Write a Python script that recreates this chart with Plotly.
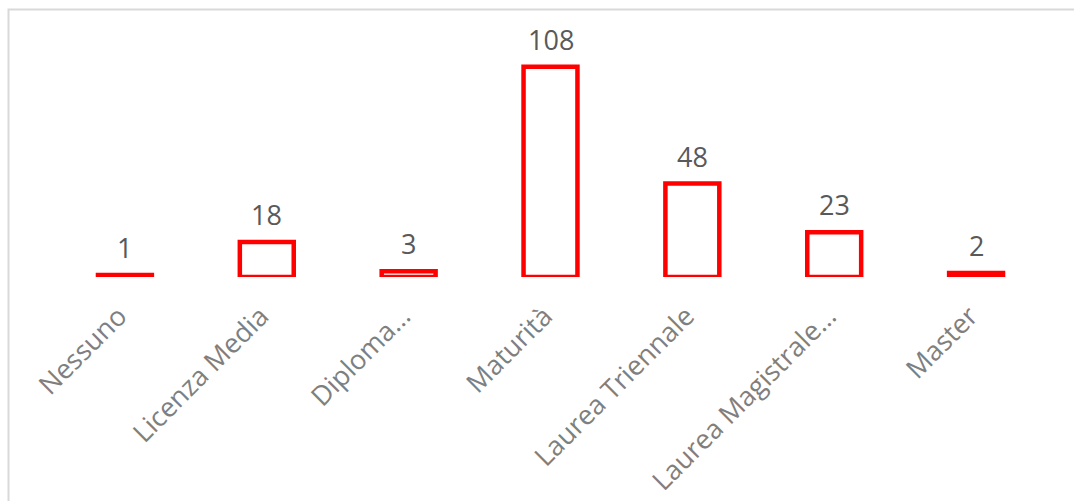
import plotly.graph_objects as go

# Titolo di studio: categorie e conteggi
categories = ["Nessuno", "Licenza Media", "Diploma…", "Maturità",
              "Laurea Triennale", "Laurea Magistrale…", "Master"]
counts = [1, 18, 3, 108, 48, 23, 2]

W, H = 1074, 501
margin = dict(l=54, r=27, t=20, b=224)
plot_w = W - margin["l"] - margin["r"]
plot_h = H - margin["t"] - margin["b"]

fig = go.Figure(
    go.Bar(
        x=categories,
        y=counts,
        width=0.38,
        marker=dict(color="white", line=dict(color="#FF0000", width=4.5)),
        cliponaxis=False,
        hoverinfo="skip",
    )
)

# value labels above each bar
for cat, v in zip(categories, counts):
    fig.add_annotation(
        x=cat, y=v, text=str(v), showarrow=False,
        yanchor="bottom", yshift=7,
        font=dict(family="Open Sans", size=27, color="#595959"),
    )

# light frame around the chart area (top and left edges visible)
fx0 = (8.5 - margin["l"]) / plot_w
fy1 = 1 + (margin["t"] - 9.5) / plot_h
fig.add_shape(type="rect", xref="paper", yref="paper",
              x0=fx0, x1=1.2, y0=-1.5, y1=fy1,
              line=dict(color="#D9D9D9", width=2), fillcolor="rgba(0,0,0,0)",
              layer="below")

fig.update_layout(
    width=W, height=H,
    margin=margin,
    paper_bgcolor="white",
    plot_bgcolor="white",
    showlegend=False,
    xaxis=dict(
        automargin=False,
        tickangle=-45,
        tickfont=dict(family="Open Sans", size=27, color="#7F7F7F"),
        ticklabelstandoff=17,
        ticklabelshift=-6,
        showline=False, showgrid=False, zeroline=False, ticks="",
    ),
    yaxis=dict(
        automargin=False,
        range=[0, 132],
        visible=False,
        showgrid=False, zeroline=False,
    ),
)

fig.write_html("out.html")
